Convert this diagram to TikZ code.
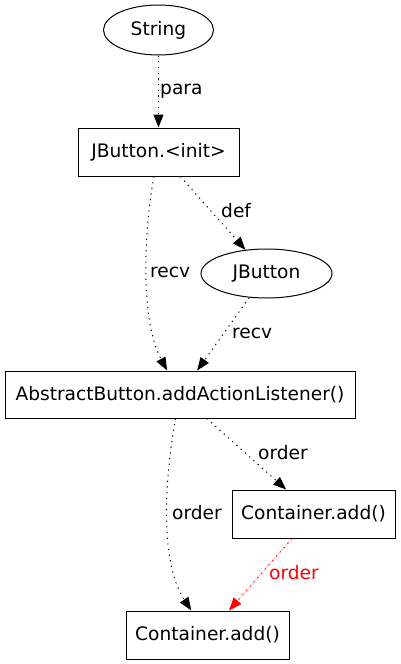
\documentclass[tikz,border=0pt]{standalone}
\usepackage{fontspec}
\setmainfont{DejaVu Sans}
\usetikzlibrary{arrows.meta,shapes.geometric}
\tikzset{
  base/.style={draw=black, line width=1pt, inner sep=0pt, font=\fontsize{18.6}{22}\selectfont},
  ell/.style={base, ellipse},
  boxn/.style={base, rectangle, minimum height=48pt},
  edge/.style={line width=1pt, dash pattern=on 1.2pt off 4.5pt, -{Triangle[length=13pt,width=10pt]}},
  lab/.style={anchor=west, inner sep=0pt, font=\fontsize{18.6}{22}\selectfont}
}
\begin{document}
\begin{tikzpicture}[x=1pt,y=-1pt]
\useasboundingbox (0,0) rectangle (400,664);
\node[ell, minimum width=110pt, minimum height=50pt] (str) at (158.5,30) {String};
\node[boxn, minimum width=161pt] (init) at (158.5,152) {JButton.<init>};
\node[ell, minimum width=131pt, minimum height=49pt] (jb) at (266.5,273.5) {JButton};
\node[boxn, minimum width=350pt, minimum height=47pt] (abs) at (180,394.5) {AbstractButton.addActionListener()};
\node[boxn, minimum width=163pt] (c1) at (313.5,514) {Container.add()};
\node[boxn, minimum width=163pt] (c2) at (207.5,635) {Container.add()};

\draw[edge] (str) -- (init);
\node[lab] (lpara) at (160,91) {para};
\draw[edge] (init) -- (jb);
\node[lab] (ldef) at (221,211) {def};
\draw[edge] (init) .. controls (144,230) and (140,320) .. (abs);
\node[lab] (lrecv1) at (150,272) {recv};
\draw[edge] (jb) -- (abs);
\node[lab] (lrecv2) at (232,333) {recv};
\draw[edge] (abs) -- (c1);
\node[lab] (lord1) at (258,453) {order};
\draw[edge] (abs) .. controls (166,470) and (158,560) .. (c2);
\node[lab] (lord2) at (172,513) {order};
\draw[edge, draw=red, fill=red] (c1) -- (c2);
\node[lab, text=red] (lord3) at (269,573) {order};
\end{tikzpicture}
\end{document}
